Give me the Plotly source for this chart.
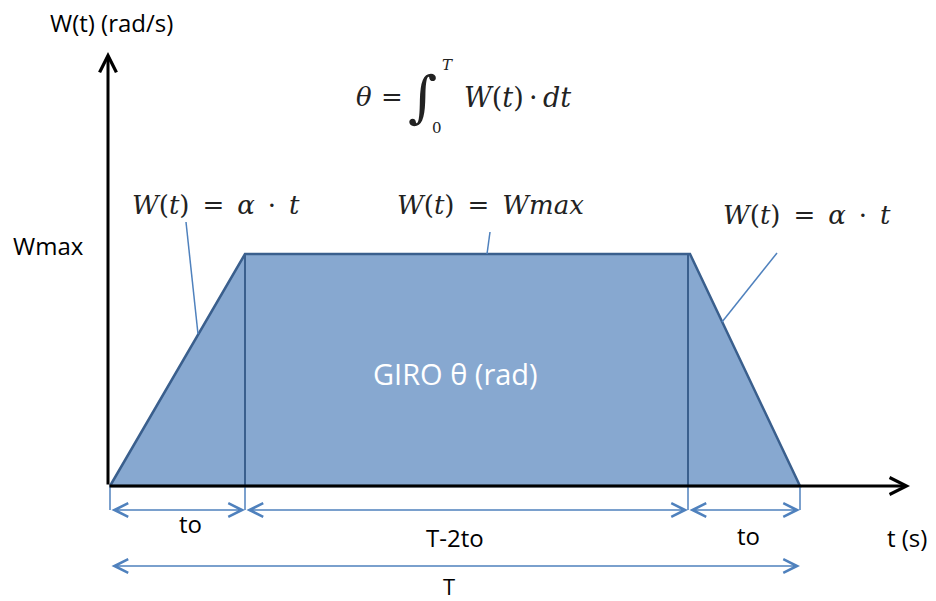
import plotly.graph_objects as go

# Diagram data (diagram units: origin at the axes corner)
profile_t = [0, 135, 580, 690]      # t: 0, to, T-to, T
profile_w = [0, 232, 232, 0]        # W(t): 0, Wmax, Wmax, 0
divider_t = [135, 578]              # vertical dividers
dim_row1 = [0, 135, 578, 690]       # to | T-2to | to
dim_row1_labels = ["to", "T-2to", "to"]
dim_row2 = [0, 690]
dim_row2_label = "T"

FILL = "#87A8D0"
EDGE = "#3A5F8D"
DIM = "#4F81BD"

fig = go.Figure()

# trapezoid
fig.add_trace(go.Scatter(
    x=profile_t + [profile_t[0]], y=profile_w + [profile_w[0]],
    mode="lines", fill="toself", fillcolor=FILL,
    line=dict(color=EDGE, width=2.5), hoverinfo="skip", showlegend=False))
for t in divider_t:
    fig.add_trace(go.Scatter(x=[t, t], y=[0, profile_w[1]], mode="lines",
                             line=dict(color=EDGE, width=2), hoverinfo="skip", showlegend=False))

# dimension ticks
y1, y2 = -24, -80
for t in dim_row1:
    fig.add_trace(go.Scatter(x=[t, t], y=[0, y1], mode="lines",
                             line=dict(color=DIM, width=1.5), hoverinfo="skip", showlegend=False))

ann = []
def arrow(x0, y0, x1, y1_, color, width, size, both=False, head=5):
    d = dict(x=x1, y=y1_, ax=x0, ay=y0, xref="x", yref="y", axref="x", ayref="y",
             text="", showarrow=True, arrowhead=head, arrowsize=size, arrowwidth=width,
             arrowcolor=color, standoff=0, startstandoff=0)
    if both:
        d.update(arrowside="end+start", startarrowhead=head, startarrowsize=size)
    ann.append(d)

# axes
arrow(-2, 0, 800, 0, "black", 3, 1.1)
arrow(-2, 0, -2, 434, "black", 3, 1.1)
# dimension arrows
for a, b in zip(dim_row1[:-1], dim_row1[1:]):
    arrow(a, y1, b, y1, DIM, 1.5, 1.8, both=True)
arrow(dim_row2[0], y2, dim_row2[1], y2, DIM, 1.5, 1.8, both=True)

# leader lines
leaders = [((76, 264), (88, 152)), ((380, 254), (377, 232)), ((667, 233), (612, 164))]
for (xa, ya), (xb, yb) in leaders:
    fig.add_trace(go.Scatter(x=[xa, xb], y=[ya, yb], mode="lines",
                             line=dict(color=DIM, width=1.5), hoverinfo="skip", showlegend=False))

def txt(x, y, s, size=22, color="black", family="Open Sans", xanchor="center"):
    ann.append(dict(x=x, y=y, xref="x", yref="y", text=s, showarrow=False,
                    font=dict(family=family, size=size, color=color), xanchor=xanchor, yanchor="middle"))

LS = 24
txt(1, 464, "W(t) (rad/s)", LS)
txt(-62, 241, "Wmax", LS)
txt(797, -51, "t (s)", LS)
txt(80, -37, dim_row1_labels[0], LS)
txt(345, -51, dim_row1_labels[1], LS)
txt(638, -49, dim_row1_labels[2], LS)
txt(339, -100, dim_row2_label, 22)
txt(345, 113, "GIRO θ (rad)", 29, color="white")

SERIF = "DejaVu Serif"
FC = "#222222"
FS = 26
SP = "\u2002"
SP2 = "\u2009"
alpha_eq = "<i>W</i>(<i>t</i>)" + SP + "=" + SP + "<i>α</i>" + SP + "·" + SP + "<i>t</i>"
txt(106, 281, alpha_eq, FS, FC, SERIF)
txt(380, 281, "<i>W</i>(<i>t</i>)" + SP + "=" + SP + "<i>Wmax</i>", FS, FC, SERIF)
txt(697, 271, alpha_eq, FS, FC, SERIF)
# integral
txt(254, 389, "<i>θ</i>", FS, FC, SERIF)
txt(282, 389, "=", FS, FC, SERIF)
txt(312, 390, "∫", 56, FC, SERIF)
txt(337, 421, "<i>T</i>", 15, FC, SERIF)
txt(327, 358, "0", 15, FC, SERIF)
txt(407, 389, "<i>W</i>(<i>t</i>)" + SP2 + "·" + SP2 + "<i>dt</i>", 27, FC, SERIF)

fig.update_layout(
    width=936, height=601, margin=dict(l=0, r=0, t=0, b=0),
    paper_bgcolor="white", plot_bgcolor="white",
    xaxis=dict(range=[-110, 826], visible=False, fixedrange=True),
    yaxis=dict(range=[-115, 486], visible=False, fixedrange=True),
    annotations=ann, showlegend=False)

fig.write_html("out.html", config={"displayModeBar": False},
               post_script="document.body.style.margin='0';document.body.style.overflow='hidden';")
